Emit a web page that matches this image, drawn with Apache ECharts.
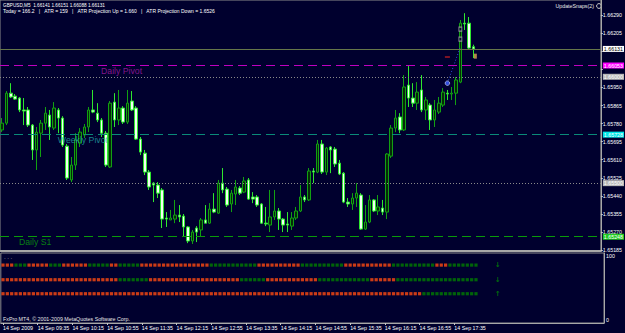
<!DOCTYPE html>
<html><head><meta charset="utf-8">
<script src="https://cdn.jsdelivr.net/npm/echarts@6/dist/echarts.min.js"></script>
<style>html,body{margin:0;padding:0;background:#00002e;}#c{width:625px;height:333px;}</style>
</head><body><div id="c"></div>
<script>
// ---- data ----
const opens = [1.65750,1.65782,1.65923,1.65909,1.65900,1.65844,1.65844,1.65773,1.65656,1.65735,
1.65782,1.65820,1.65759,1.65844,1.65806,1.65674,1.65515,1.65585,1.65688,1.65726,
1.65764,1.65844,1.65829,1.65797,1.65735,1.65576,1.65881,1.65797,1.65853,1.65787,
1.65886,1.65853,1.65707,1.65641,1.65552,1.65500,1.65491,1.65468,1.65336,1.65327,
1.65331,1.65350,1.65345,1.65294,1.65228,1.65289,1.65280,1.65327,1.65312,1.65378,
1.65359,1.65500,1.65472,1.65402,1.65449,1.65477,1.65458,1.65515,1.65435,1.65435,
1.65402,1.65312,1.65303,1.65341,1.65369,1.65331,1.65308,1.65298,1.65336,1.65369,
1.65435,1.65421,1.65557,1.65552,1.65684,1.65552,1.65670,1.65660,1.65594,1.65547,
1.65411,1.65402,1.65430,1.65444,1.65284,1.65317,1.65421,1.65369,1.65383,1.65364,
1.65627,1.65759,1.65811,1.65750,1.65961,1.65900,1.65876,1.65938,1.65844,1.65867,
1.65797,1.65834,1.65867,1.65923,1.65919,1.65923,1.65975,1.66252,1.66252,1.66141];
const highs = [1.65806,1.65933,1.65970,1.65919,1.65905,1.65900,1.65858,1.65778,1.65764,1.65797,
1.65858,1.65844,1.65881,1.65853,1.65815,1.65684,1.65623,1.65735,1.65759,1.65778,
1.65858,1.65938,1.65876,1.65806,1.65745,1.65886,1.65923,1.65938,1.65862,1.65938,
1.65933,1.65862,1.65717,1.65656,1.65562,1.65505,1.65505,1.65477,1.65364,1.65374,
1.65421,1.65397,1.65355,1.65298,1.65280,1.65298,1.65336,1.65397,1.65406,1.65453,
1.65515,1.65571,1.65482,1.65468,1.65515,1.65486,1.65529,1.65524,1.65458,1.65444,
1.65406,1.65388,1.65468,1.65468,1.65383,1.65336,1.65364,1.65364,1.65388,1.65491,
1.65444,1.65571,1.65571,1.65703,1.65703,1.65670,1.65674,1.65670,1.65609,1.65552,
1.65430,1.65453,1.65500,1.65453,1.65397,1.65444,1.65425,1.65444,1.65421,1.65641,
1.65773,1.65844,1.65829,1.66008,1.66055,1.65970,1.65975,1.66008,1.65905,1.65876,
1.65891,1.65905,1.65947,1.65938,1.65952,1.65999,1.66267,1.66299,1.66281,1.66151];
const lows = [1.65740,1.65773,1.65900,1.65891,1.65834,1.65773,1.65764,1.65609,1.65562,1.65623,
1.65750,1.65703,1.65750,1.65735,1.65670,1.65515,1.65505,1.65562,1.65670,1.65712,
1.65740,1.65829,1.65787,1.65717,1.65576,1.65571,1.65764,1.65773,1.65778,1.65778,
1.65839,1.65703,1.65632,1.65538,1.65468,1.65411,1.65430,1.65289,1.65294,1.65327,
1.65312,1.65317,1.65247,1.65218,1.65214,1.65223,1.65247,1.65312,1.65308,1.65359,
1.65355,1.65453,1.65388,1.65364,1.65397,1.65444,1.65453,1.65421,1.65406,1.65388,
1.65308,1.65298,1.65270,1.65327,1.65280,1.65270,1.65270,1.65280,1.65327,1.65364,
1.65411,1.65416,1.65500,1.65547,1.65543,1.65538,1.65547,1.65576,1.65538,1.65406,
1.65388,1.65374,1.65388,1.65280,1.65280,1.65312,1.65364,1.65350,1.65350,1.65331,
1.65618,1.65740,1.65735,1.65745,1.65858,1.65858,1.65844,1.65834,1.65797,1.65750,
1.65764,1.65825,1.65858,1.65891,1.65891,1.65867,1.65970,1.66220,1.66126,1.66088];
const closes = [1.65782,1.65923,1.65905,1.65895,1.65844,1.65839,1.65773,1.65656,1.65740,1.65782,
1.65829,1.65764,1.65853,1.65806,1.65679,1.65524,1.65585,1.65703,1.65740,1.65764,
1.65844,1.65834,1.65797,1.65735,1.65585,1.65876,1.65797,1.65853,1.65787,1.65876,
1.65844,1.65707,1.65646,1.65552,1.65482,1.65491,1.65453,1.65331,1.65331,1.65336,
1.65350,1.65341,1.65294,1.65228,1.65270,1.65270,1.65327,1.65312,1.65378,1.65364,
1.65500,1.65468,1.65397,1.65453,1.65482,1.65453,1.65510,1.65425,1.65425,1.65397,
1.65312,1.65308,1.65341,1.65369,1.65331,1.65303,1.65303,1.65336,1.65369,1.65435,
1.65421,1.65557,1.65552,1.65684,1.65552,1.65665,1.65656,1.65590,1.65543,1.65411,
1.65402,1.65430,1.65453,1.65284,1.65317,1.65421,1.65369,1.65388,1.65364,1.65637,
1.65759,1.65806,1.65750,1.65952,1.65900,1.65876,1.65928,1.65844,1.65891,1.65797,
1.65844,1.65876,1.65928,1.65919,1.65923,1.65985,1.66252,1.66248,1.66135,1.66131];

const priceTicks = [1.66290,1.66205,1.66120,1.66035,1.65950,1.65865,1.65780,1.65695,1.65610,1.65525,1.65440,1.65355,1.65270,1.65185];
// labels hidden under the level boxes in the reference are not printed
const priceTickLabels = [1.66290,1.66205,1.65950,1.65865,1.65780,1.65695,1.65610,1.65525,1.65440,1.65355,1.65270,1.65185];
const timeLabels = ["14 Sep 2009","14 Sep 09:35","14 Sep 10:15","14 Sep 10:55","14 Sep 11:35","14 Sep 12:15","14 Sep 12:55","14 Sep 13:35","14 Sep 14:15","14 Sep 14:55","14 Sep 15:35","14 Sep 16:15","14 Sep 16:55","14 Sep 17:35"];

const bidPrice = 1.66131;
const dailyPivot = 1.66053;
const roundUp = 1.66000;
const weeklyPivot = 1.65728;
const roundDown = 1.65500;
const dailyS1 = 1.65248;

const projDot = [103, 1.65970];
const projLine = [[103, 1.65970], [106, 1.66140]];
const redMark = [103, 1.66093];
const greyMarks = [[106, 1.66224], [106, 1.66177]];
const orangeMark = [109, 1.66097];

// indicator rows: runs of r(ed)/g(reen)
const row1Runs = [['r',3],['g',3],['r',5],['g',3],['r',6],['g',5],['r',2],['g',5],['r',16],['g',11],['r',10],['g',10],['r',11],['g',10],['r',3],['g',7]];
const row2Runs = [['r',27],['g',7],['r',21],['g',6],['r',12],['g',12],['r',6],['g',19]];
const row3Runs = [['r',97],['g',13]];
const rowLevels = [86, 63, 41];
const rowArrows = ['↓','↓','↑'];
const arrowBar = 114;

// ---- build ----
const N = 139;
const cats = [];
for (let i = 0; i < N; i++) {
  const m = 8 * 60 + 55 + 5 * i;
  cats.push('14 Sep ' + String(Math.floor(m / 60)).padStart(2, '0') + ':' + String(m % 60).padStart(2, '0'));
}
const FONT = 'Liberation Sans';
const RED = '#ff4a10', GREEN = '#007c00';
function expand(runs){ const out=[]; runs.forEach(([c,n])=>{for(let k=0;k<n;k++) out.push(c);}); return out; }
const rows = [row1Runs,row2Runs,row3Runs].map(expand);

const candleData = opens.map((o, i) => [o, closes[i], lows[i], highs[i]]);

// each horizontal level is its own (empty) series carrying one markLine
function levelSeries(name, v, color, type, boxBg, boxFg){
  return {type:'line', name:name, xAxisIndex:0, yAxisIndex:0, data:[], silent:true, animation:false, z:1,
    markLine:{silent:true, symbol:['none','none'], animation:false, precision:5,
      lineStyle:{color:color, type:type, width:1, opacity:1},
      label:{show:true, position:'end', distance:2, formatter: ()=>v.toFixed(5), backgroundColor: boxBg, color: boxFg,
        fontSize:5.3, fontFamily:FONT, padding:[1,1,0,1]},
      emphasis:{disabled:true},
      data:[{yAxis: v}]}};
}

const series = [
  levelSeries('bid', bidPrice,'#66764a','solid','#ffffff','#000000'),
  levelSeries('dailyPivot', dailyPivot,'#c000c0',[9,5],'#ff00ff','#ffffff'),
  levelSeries('roundUp', roundUp,'#8a8a8a',[1,2],'#b8b8b8','#ffffff'),
  levelSeries('weeklyPivot', weeklyPivot,'#0a8a78',[9,5],'#00e8e8','#ffffff'),
  levelSeries('roundDown', roundDown,'#8a8a8a',[1,2],'#b8b8b8','#ffffff'),
  levelSeries('dailyS1', dailyS1,'#0a9a0a',[9,5],'#22cc22','#ffffff'),
  {type:'candlestick', xAxisIndex:0, yAxisIndex:0, data:candleData, barWidth:3, animation:false, z:2,
   itemStyle:{color:'#062a08', color0:'#f2fff2', borderColor:'#12a012', borderColor0:'#2ee82e', borderWidth:1}},
  {type:'line', xAxisIndex:0, yAxisIndex:0, data:projLine, symbol:'none', animation:false, silent:true, z:4,
   lineStyle:{color:'#3050e0', width:1, type:[1,2]}},
  {type:'scatter', xAxisIndex:0, yAxisIndex:0, animation:false, silent:true, z:5,
   data:[
     {value:projDot, symbol:'circle', symbolSize:4.5, itemStyle:{color:'#3c5cff', borderColor:'#d0dcff', borderWidth:0.8}},
     {value:redMark, symbol:'rect', symbolSize:[5,1.5], itemStyle:{color:'#d02020'}},
     {value:greyMarks[0], symbol:'rect', symbolSize:[3,4], itemStyle:{color:'#00002e', borderColor:'#a8a8a8', borderWidth:1}},
     {value:greyMarks[1], symbol:'rect', symbolSize:[3,4], itemStyle:{color:'#00002e', borderColor:'#a8a8a8', borderWidth:1}},
     {value:orangeMark, symbol:'rect', symbolSize:[3,5], symbolOffset:[2,0], itemStyle:{color:'#e0a850'}}
   ]},
  {type:'scatter', xAxisIndex:0, yAxisIndex:0, animation:false, silent:true, symbolSize:1, z:10,
   itemStyle:{color:'transparent'},
   label:{show:true, position:[0,1], align:'left', verticalAlign:'top', fontSize:8.7, fontFamily:FONT},
   data:[
     {value:[23, dailyPivot], label:{formatter:'Daily Pivot', color:'#a41ca4'}},
     {value:[13, weeklyPivot], label:{formatter:'Weekly Pivot', color:'#22a6a6'}},
     {value:[4, dailyS1], label:{formatter:'Daily S1', color:'#0aa00a'}}
   ]}
];
rows.forEach((r, k) => {
  series.push({type:'scatter', xAxisIndex:1, yAxisIndex:1, animation:false, silent:true, symbol:'rect', symbolSize:[3.2,3.2],
    data: r.map((c, i) => ({value:[i, rowLevels[k]], itemStyle:{color: c === 'r' ? RED : GREEN}}))});
});
series.push({type:'scatter', xAxisIndex:1, yAxisIndex:1, animation:false, silent:true, symbolSize:1,
  itemStyle:{color:'transparent'},
  label:{show:true, position:'inside', fontSize:7, fontFamily:'DejaVu Sans', color:'#008a00', fontWeight:'bold'},
  data: rowLevels.map((lv, k) => ({value:[arrowBar, lv], label:{formatter: rowArrows[k]}}))});

const chart = echarts.init(document.getElementById('c'), null, {renderer:'svg', width:625, height:333});
chart.setOption({
  backgroundColor:'#00002e',
  animation:false,
  grid:[
    {left:0, right:21, top:0, height:251, show:true, borderColor:'#8c8c8c', borderWidth:1},
    {left:0, right:21, top:253, height:70, show:true, borderColor:'#8c8c8c', borderWidth:1}
  ],
  xAxis:[
    {type:'category', gridIndex:0, data:cats, boundaryGap:true,
     axisLine:{show:true, onZero:false, lineStyle:{color:'#a8a8a8', width:2}}, axisTick:{show:false}, axisLabel:{show:false}, splitLine:{show:false}},
    {type:'category', gridIndex:1, data:cats, boundaryGap:true,
     axisLine:{show:true, onZero:false, lineStyle:{color:'#a8a8a8', width:1}},
     axisTick:{show:true, alignWithLabel:true, length:2, interval:(i)=> i % 8 === 0 && i <= 104, lineStyle:{color:'#c8c8c8'}},
     axisLabel:{show:true, interval:(i)=> i % 8 === 0 && i <= 104, align:'left', margin:2, color:'#ffffff', fontSize:5.3, fontFamily:FONT,
       formatter:(v, i)=> (i % 8 === 0 && i / 8 < timeLabels.length) ? timeLabels[i / 8] : ''},
     splitLine:{show:false}}
  ],
  yAxis:[
    {type:'value', gridIndex:0, position:'right', min:1.65181, max:1.66361, scale:true,
     axisLine:{show:true, lineStyle:{color:'#a8a8a8'}},
     axisTick:{show:true, length:2, customValues:priceTicks, lineStyle:{color:'#c8c8c8'}},
     axisLabel:{show:true, customValues:priceTickLabels, margin:2, color:'#ffffff', fontSize:5.3, fontFamily:FONT, formatter:(v)=>v.toFixed(5)},
     splitLine:{show:false}},
    {type:'value', gridIndex:1, position:'right', min:-5, max:105,
     axisLine:{show:true, lineStyle:{color:'#a8a8a8'}},
     axisTick:{show:false},
     axisLabel:{show:true, customValues:[0,100], margin:2, color:'#ffffff', fontSize:5.3, fontFamily:FONT},
     splitLine:{show:false}}
  ],
  series: series,
  graphic:[
    {type:'text', x:3, y:5.5, silent:true, style:{text:'GBPUSD,M5\u00a0\u00a01.66141 1.66151 1.66088 1.66131', fill:'#ffffff', fontSize:4.7, fontFamily:FONT, verticalAlign:'middle'}},
    {type:'text', x:3, y:11.3, silent:true, style:{text:'Today = 166.2\u00a0\u00a0\u00a0|\u00a0\u00a0\u00a0ATR = 159\u00a0\u00a0\u00a0|\u00a0\u00a0\u00a0ATR Projection Up = 1.660\u00a0\u00a0\u00a0|\u00a0\u00a0\u00a0ATR Projection Down = 1.6526', fill:'#ffffff', fontSize:5.0, fontFamily:FONT, verticalAlign:'middle'}},
    {type:'text', x:594, y:6, silent:true, style:{text:'UpdateSnaps(2)', fill:'#e8e8e8', fontSize:5.3, fontFamily:FONT, align:'right', verticalAlign:'middle'}},
    {type:'circle', silent:true, shape:{cx:599, cy:6, r:2.4}, style:{fill:'none', stroke:'#c8c8c8', lineWidth:1}},
    {type:'text', x:4, y:257.5, silent:true, style:{text:'\u00b7 \u00b7 \u00b7', fill:'#d0d0d0', fontSize:5.3, fontFamily:FONT, verticalAlign:'middle'}},
    {type:'text', x:3, y:319, silent:true, style:{text:'FxPro MT4, \u00a9 2001-2009 MetaQuotes Software Corp.', fill:'#e8e8e8', fontSize:5.3, fontFamily:FONT, verticalAlign:'middle'}}
  ]
});
</script>
</body></html>
